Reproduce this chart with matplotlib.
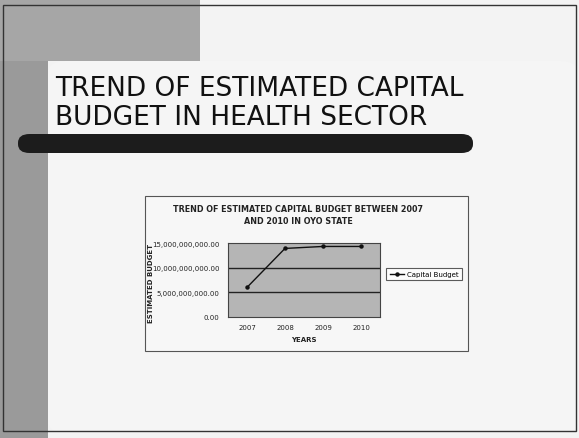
import matplotlib
matplotlib.use("Agg")
import matplotlib.pyplot as plt
from matplotlib.patches import Rectangle, FancyBboxPatch

years = ["2007", "2008", "2009", "2010"]
capital_budget = [6.0e9, 13.9e9, 14.3e9, 14.3e9]
y_ticks = [0, 5e9, 10e9, 15e9]
y_tick_labels = ["0.00", "5,000,000,000.00", "10,000,000,000.00", "15,000,000,000.00"]

W, H = 579, 439
fig = plt.figure(figsize=(W / 100, H / 100), dpi=100)
fig.patch.set_facecolor("#f3f3f3")

def px(x, y, w, h):
    # convert pixel box (top-left origin) to figure fraction
    return (x / W, 1 - (y + h) / H, w / W, h / H)

def frect(x, y, w, h, **kw):
    l, b, ww, hh = px(x, y, w, h)
    r = Rectangle((l, b), ww, hh, transform=fig.transFigure, **kw)
    fig.patches.append(r)
    return r

# slide decorations
frect(0, 0, 48, H, facecolor="#9a9a9a", edgecolor="none")
frect(0, 0, 200, 62, facecolor="#a6a6a6", edgecolor="none")
l, b, ww, hh = px(48, 62, 530, 372)
fig.patches.append(FancyBboxPatch((l, b), ww, hh, boxstyle="round,pad=0,rounding_size=0.03",
                                  transform=fig.transFigure, facecolor="#f5f5f5", edgecolor="none"))
frect(3, 6, 573, 426, facecolor="none", edgecolor="#333333", linewidth=1.0)

# dark bar under title
l, b, ww, hh = px(18, 135, 455, 19)
fig.patches.append(FancyBboxPatch((l, b), ww, hh, boxstyle="round,pad=0,rounding_size=0.02",
                                  transform=fig.transFigure, facecolor="#1c1c1c", edgecolor="none"))

fig.text(55 / W, 1 - 89 / H, "TREND OF ESTIMATED CAPITAL", fontsize=19, color="#111111",
         ha="left", va="center")
fig.text(55 / W, 1 - 118 / H, "BUDGET IN HEALTH SECTOR", fontsize=19, color="#111111",
         ha="left", va="center")

# chart area box
frect(145, 197, 323, 155, facecolor="#f7f7f7", edgecolor="#555555", linewidth=0.8)

fig.text(298 / W, 1 - 210 / H, "TREND OF ESTIMATED CAPITAL BUDGET BETWEEN 2007",
         fontsize=5.8, fontweight="bold", ha="center", va="center", color="#222222")
fig.text(298 / W, 1 - 221 / H, "AND 2010 IN OYO STATE",
         fontsize=5.8, fontweight="bold", ha="center", va="center", color="#222222")

ax = fig.add_axes(px(228, 244, 152, 74))
ax.set_zorder(5)
ax.set_facecolor("#b5b5b5")
x = list(range(len(years)))
ax.plot(x, capital_budget, color="#111111", linewidth=1.0, marker="o", markersize=2.2,
        label="Capital Budget", zorder=3)
ax.set_xlim(-0.5, len(years) - 0.5)
ax.set_ylim(0, 15e9)
ax.set_xticks(x)
ax.set_xticklabels(years, fontsize=5)
ax.set_yticks(y_ticks)
ax.set_yticklabels(y_tick_labels, fontsize=5)
ax.tick_params(axis="x", length=0, pad=5, colors="#222222")
ax.tick_params(axis="y", length=0, pad=6, colors="#222222")
for v in y_ticks[1:3]:
    ax.axhline(v, color="#222222", linewidth=1.0, zorder=1)
for s in ax.spines.values():
    s.set_color("#444444")
    s.set_linewidth(0.8)
ax.set_xlabel("YEARS", fontsize=5, fontweight="bold", labelpad=4, color="#222222")
fig.text(151 / W, 1 - 283 / H, "ESTIMATED BUDGET", rotation=90, fontsize=5,
         fontweight="bold", ha="center", va="center", color="#222222", zorder=6)

leg = fig.legend(*ax.get_legend_handles_labels(), loc="center",
                 bbox_to_anchor=(424 / W, 1 - 275 / H), fontsize=5, frameon=True,
                 fancybox=False, edgecolor="#333333", handlelength=2.0,
                 borderpad=0.5, handletextpad=0.4)
leg.set_zorder(6)
leg.get_frame().set_linewidth(0.8)

fig.savefig("out.png", dpi=100)
